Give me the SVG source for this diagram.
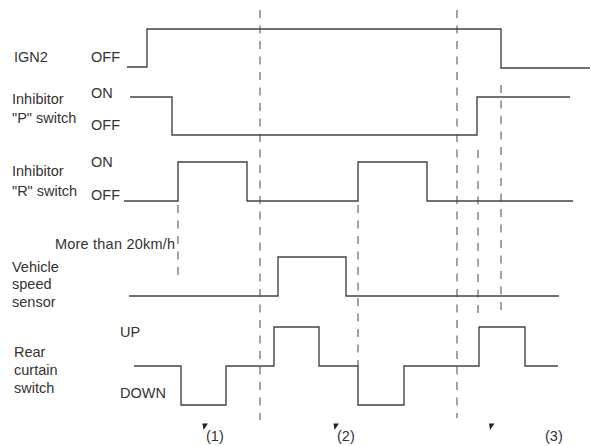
<svg xmlns="http://www.w3.org/2000/svg" width="591" height="446" viewBox="0 0 591 446">
<style>
.t{font-family:"Liberation Sans",Arial,sans-serif;font-size:14.5px;fill:#333}
.w{fill:none;stroke:#444;stroke-width:1.4}
.d{fill:none;stroke:#666;stroke-width:1.2;stroke-dasharray:8 7.5}
.m{fill:#222}
</style>
<rect width="591" height="446" fill="#fff"/>
<g id="connectors">
<line class="d" x1="260" y1="10" x2="260" y2="420"/>
<line class="d" x1="457" y1="10" x2="457" y2="418"/>
<line class="d" x1="178" y1="205" x2="178" y2="277"/>
<line class="d" x1="358" y1="205" x2="358" y2="366"/>
<line class="d" x1="478" y1="150" x2="478" y2="320"/>
<line class="d" x1="501" y1="85" x2="501" y2="315"/>
</g>
<g id="ign2">
<text class="t" x="14" y="62">IGN2</text>
<text class="t" x="91" y="62">OFF</text>
<polyline class="w" points="127,67 147,67 147,29 501,29 501,68 590,68"/>
</g>
<g id="inhibitor-p">
<text class="t" x="12" y="104">Inhibitor</text>
<text class="t" x="12" y="123">"P" switch</text>
<text class="t" x="91" y="98">ON</text>
<text class="t" x="91" y="130">OFF</text>
<polyline class="w" points="130,97 172,97 172,135 477,135 477,97 570,97"/>
</g>
<g id="inhibitor-r">
<text class="t" x="12" y="176">Inhibitor</text>
<text class="t" x="12" y="196">"R" switch</text>
<text class="t" x="91" y="167">ON</text>
<text class="t" x="91" y="200">OFF</text>
<polyline class="w" points="124,201 178,201 178,162 247,162 247,201 358,201 358,162 427,162 427,201 573,201"/>
</g>
<g id="vehicle-speed">
<text class="t" x="55" y="249" textLength="120">More than 20km/h</text>
<text class="t" x="12" y="272">Vehicle</text>
<text class="t" x="12" y="289">speed</text>
<text class="t" x="12" y="307">sensor</text>
<polyline class="w" points="129,296 278,296 278,257 346,257 346,296 559,296"/>
</g>
<g id="rear-curtain">
<text class="t" x="120" y="337">UP</text>
<text class="t" x="14" y="357">Rear</text>
<text class="t" x="14" y="375">curtain</text>
<text class="t" x="14" y="393">switch</text>
<text class="t" x="120" y="398">DOWN</text>
<polyline class="w" points="134,366 181,366 181,405 226,405 226,366 274,366 274,327 319,327 319,366 358,366 358,405 404,405 404,366 479,366 479,327 525,327 525,366 558,366"/>
</g>
<g id="markers">
<polygon class="m" points="202.5,423.5 208,423.5 203.5,430"/>
<text class="t" x="206" y="441">(1)</text>
<polygon class="m" points="333.5,423.5 339,423.5 334.5,430"/>
<text class="t" x="337" y="441">(2)</text>
<polygon class="m" points="489,423.5 494.5,423.5 490,430"/>
<text class="t" x="545" y="441">(3)</text>
</g>
</svg>
